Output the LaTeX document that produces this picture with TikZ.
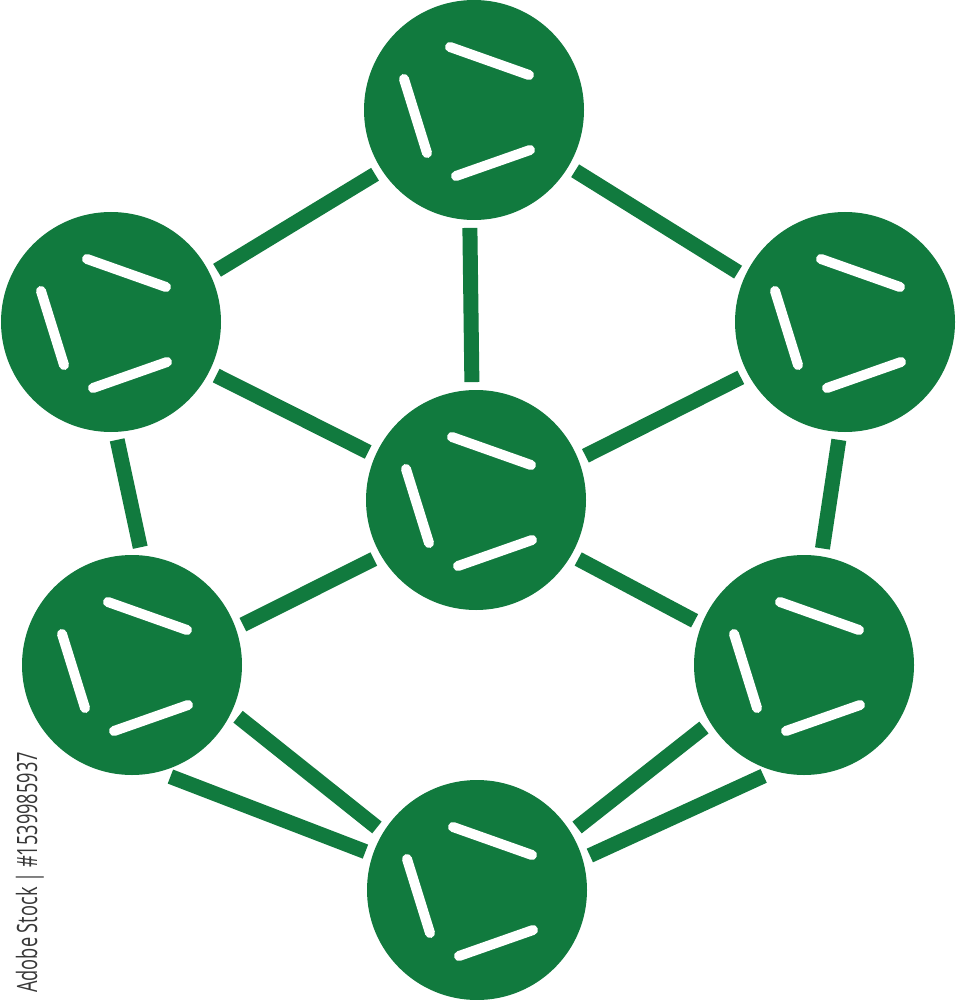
\documentclass[tikz,border=0pt]{standalone}
\usepackage{fontspec}
\newfontfamily\stockfont{Open Sans}
\definecolor{molgreen}{RGB}{17,122,62}
\definecolor{stockgray}{RGB}{55,55,55}
\begin{document}
\begin{tikzpicture}[x=1pt,y=-1pt,
  atom/.style={circle,fill=molgreen,minimum size=220pt,inner sep=0pt,outer sep=8pt},
  bond/.style={draw=molgreen,line width=15pt},
  shine/.style={draw=white,line width=10pt,line cap=round}]
\useasboundingbox (0,0) rectangle (955,1000);
% atoms
\node[atom] (top) at (474,110) {};
\node[atom] (ul)  at (111,322) {};
\node[atom] (ur)  at (845,322) {};
\node[atom] (c)   at (476,500) {};
\node[atom] (ll)  at (132,665) {};
\node[atom] (lr)  at (804,665) {};
\node[atom] (bot) at (477,890) {};
% highlights
\foreach \n in {top,ul,ur,c,ll,lr,bot}{
  \draw[shine] ([shift={(-24,-63)}]\n.center) -- ([shift={(55,-35)}]\n.center);
  \draw[shine] ([shift={(-70,-31)}]\n.center) -- ([shift={(-47,43)}]\n.center);
  \draw[shine] ([shift={(-18,66)}]\n.center) -- ([shift={(56,40)}]\n.center);
}
% bonds
\draw[bond] (top.213) -- (ul.26);
\draw[bond] (top.329) -- (ur.155);
\draw[bond] (top.268) -- (c.92);
\draw[bond] (ul.333) -- (c.156);
\draw[bond] (ur.208) -- (c.22);
\draw[bond] (ul.273) -- (ll.86);
\draw[bond] (ur.267) -- (lr.81);
\draw[bond] (c.210) -- (ll.20);
\draw[bond] (c.330) -- (lr.158);
\draw[bond] (ll.334) -- (bot.148);
\draw[bond] (ll.289) -- (bot.161);
\draw[bond] (lr.212) -- (bot.32);
\draw[bond] (lr.250) -- (bot.17);
% stock label
\node[rotate=90,anchor=base west,inner sep=0pt,text=stockgray] (stock) at (37,993)
  {\scalebox{0.65}[1]{\stockfont\fontsize{28}{28}\selectfont Adobe Stock | \#1539985937}};
\end{tikzpicture}
\end{document}
